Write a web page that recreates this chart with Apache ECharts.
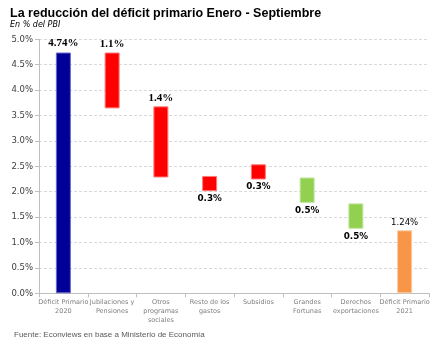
<!DOCTYPE html>
<html>
<head>
<meta charset="utf-8">
<script src="https://cdn.jsdelivr.net/npm/echarts@6/dist/echarts.min.js"></script>
<style>
  html, body { margin: 0; padding: 0; background: #ffffff; }
  #chart { width: 443px; height: 340px; }
</style>
</head>
<body>
<div id="chart"></div>
<script>
// Categorías del gráfico de cascada
var categorias = [
  'Déficit Primario\n2020',
  'Jubilaciones y\nPensiones',
  'Otros\nprogramas\nsociales',
  'Resto de los\ngastos',
  'Subsidios',
  'Grandes\nFortunas',
  'Derechos\nexportaciones',
  'Déficit Primario\n2021'
];
// Nivel desde el que arranca cada barra (% del PBI)
var base = [0, 3.64, 2.28, 2.01, 2.24, 1.78, 1.27, 0];
// Tamaño de cada barra (% del PBI)
var variacion = [4.74, 1.1, 1.4, 0.3, 0.3, 0.5, 0.5, 1.24];
// Decimales con que se muestra cada valor
var decimales = [2, 1, 1, 1, 1, 1, 1, 2];
// Tipo de barra: total, gasto o ingreso
var tipo = ['inicio', 'gasto', 'gasto', 'gasto', 'gasto', 'ingreso', 'ingreso', 'final'];
// Marcas del eje vertical
var ticksY = [0, 0.5, 1, 1.5, 2, 2.5, 3, 3.5, 4, 4.5, 5];

var colores = {
  inicio: { fill: '#000099', border: '#6a6ac8' },
  gasto: { fill: '#ff0000', border: '#ff7a7a' },
  ingreso: { fill: '#92d050', border: '#c2e6a0' },
  final: { fill: '#f79646', border: '#fbc9a0' }
};

var estiloEtiqueta = {
  inicio: { position: 'top', distance: 4, fontFamily: 'Liberation Serif', fontWeight: 'bold', fontSize: 11, color: '#000' },
  gasto: { position: 'bottom', distance: 3, fontFamily: 'DejaVu Sans', fontWeight: 'bold', fontSize: 8.8, color: '#000' },
  ingreso: { position: 'bottom', distance: 3, fontFamily: 'DejaVu Sans', fontWeight: 'bold', fontSize: 8.8, color: '#000' },
  final: { position: 'top', distance: 3, fontFamily: 'DejaVu Sans', fontWeight: 'normal', fontSize: 8.5, color: '#000' }
};
// Las dos primeras partidas de gasto llevan la etiqueta arriba, en serif
var etiquetaArriba = { position: 'top', distance: 3, fontFamily: 'Liberation Serif', fontWeight: 'bold', fontSize: 11, color: '#000' };

var datosVisibles = variacion.map(function (v, i) {
  var t = tipo[i];
  var lab = (i === 1 || i === 2) ? etiquetaArriba : estiloEtiqueta[t];
  return {
    value: v,
    itemStyle: { color: colores[t].fill, borderColor: colores[t].border, borderWidth: 1 },
    label: Object.assign({ show: true }, lab, {
      formatter: function () { return v.toFixed(decimales[i]) + '%'; }
    })
  };
});

var chart = echarts.init(document.getElementById('chart'), null, { renderer: 'canvas' });
chart.setOption({
  animation: false,
  backgroundColor: '#ffffff',
  title: [
    {
      text: 'La reducción del déficit primario Enero - Septiembre',
      left: 5, top: 2,
      textStyle: { fontFamily: 'Liberation Sans', fontWeight: 'bold', fontSize: 12.5, color: '#000' }
    },
    {
      text: 'En % del PBI',
      left: 5, top: 16,
      textStyle: { fontFamily: 'DejaVu Sans', fontStyle: 'italic', fontWeight: 'normal', fontSize: 8, color: '#000' }
    },
    {
      text: 'Fuente: Econviews en base a Ministerio de Economía',
      left: 9, top: 326,
      textStyle: { fontFamily: 'Liberation Sans', fontWeight: 'normal', fontSize: 8, color: '#595959' }
    }
  ],
  grid: { left: 39, right: 14, top: 39.3, bottom: 46.7, containLabel: false },
  xAxis: {
    type: 'category',
    data: categorias,
    axisLine: { lineStyle: { color: '#bfbfbf', width: 1 } },
    axisTick: { show: true, length: 4, lineStyle: { color: '#bfbfbf' } },
    axisLabel: {
      interval: 0, margin: 5,
      fontFamily: 'DejaVu Sans', fontSize: 6.5, lineHeight: 9, color: '#7f7f7f'
    }
  },
  yAxis: {
    type: 'value',
    min: ticksY[0], max: ticksY[ticksY.length - 1], interval: 0.5,
    axisLine: { show: true, lineStyle: { color: '#bfbfbf' } },
    axisTick: { show: true, length: 4, lineStyle: { color: '#bfbfbf' } },
    splitLine: { show: true, lineStyle: { color: '#d9d9d9', type: [3, 2], width: 1 } },
    axisLabel: {
      margin: 6,
      fontFamily: 'DejaVu Sans', fontSize: 8.5, color: '#404040',
      formatter: function (v) { return v.toFixed(1) + '%'; }
    }
  },
  series: [
    {
      name: 'base', type: 'bar', stack: 'cascada', barWidth: 15,
      itemStyle: { color: 'transparent' },
      emphasis: { disabled: true },
      data: base
    },
    {
      name: 'variación', type: 'bar', stack: 'cascada', barWidth: 15,
      data: datosVisibles
    }
  ]
});
</script>
</body>
</html>
